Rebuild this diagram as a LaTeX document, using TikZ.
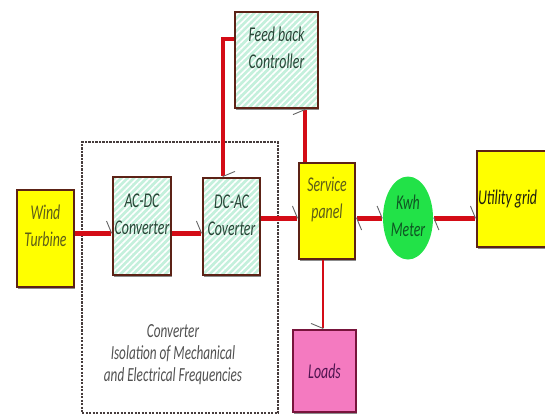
\documentclass[tikz,border=0pt]{standalone}
\usepackage{fontspec}
\setmainfont{Carlito}[FakeStretch=0.66]
\usetikzlibrary{arrows.meta,patterns.meta,shadows,shapes.geometric,calc}

\definecolor{wire}{RGB}{212,12,22}
\definecolor{edge}{RGB}{92,34,22}
\definecolor{mint}{RGB}{196,240,220}
\definecolor{yel}{RGB}{255,255,0}
\definecolor{pinkfill}{RGB}{244,122,192}
\definecolor{pinkedge}{RGB}{120,20,60}
\definecolor{meterg}{RGB}{34,226,72}
\definecolor{tipgray}{RGB}{100,100,100}
\definecolor{olivetext}{RGB}{92,92,25}
\definecolor{greentext}{RGB}{40,70,55}
\definecolor{metertext}{RGB}{15,85,35}
\definecolor{gridtext}{RGB}{30,30,15}
\definecolor{loadtext}{RGB}{80,20,80}
\definecolor{convtext}{RGB}{80,80,80}
\definecolor{dashc}{RGB}{70,60,60}

\newcommand\lifttext[2]{\raisebox{#1}[\height][\depth]{\begin{tabular}{@{}c@{}}#2\end{tabular}}}

\begin{document}
\begin{tikzpicture}[x=1pt,y=-1pt,
  font=\fontsize{21}{27}\selectfont\itshape,
  shade/.style={drop shadow={shadow xshift=0.8pt, shadow yshift=-1.8pt, opacity=0.45, fill=black}},
  ybox/.style={draw=edge, line width=1.8pt, fill=yel, inner sep=0pt, shade},
  gbox/.style={draw=edge, line width=1.8pt, inner sep=0pt, shade,
     preaction={fill=mint},
     pattern={Lines[angle=45,distance=4.5pt,line width=1.6pt]}, pattern color=white},
  pbox/.style={draw=pinkedge, line width=1.8pt, fill=pinkfill, inner sep=0pt, shade},
  dashbox/.style={draw=dashc, line width=1.1pt, dash pattern=on 2.2pt off 1.3pt, inner sep=0pt},
  wire/.style={draw=wire, line width=5pt},
  fbwire/.style={draw=wire, line width=3.6pt},
  thinwire/.style={draw=wire, line width=2.6pt},
  tipL/.style={-{Straight Barb[left, color=tipgray, line width=0.9pt, length=5pt, width=24pt]}},
  tipR/.style={-{Straight Barb[right, color=tipgray, line width=0.9pt, length=5pt, width=24pt]}},
  tipLL/.style={{Straight Barb[left, color=tipgray, line width=0.9pt, length=5pt, width=24pt]}-{Straight Barb[left, color=tipgray, line width=0.9pt, length=5pt, width=24pt]}},
]
\useasboundingbox (0,0) rectangle (545,417);

% converter group frame
\node[dashbox, minimum width=196pt, minimum height=271pt] (conv) at (180,277.5) {};
\node[text=convtext, align=center, font=\fontsize{20}{22}\selectfont\itshape] (ctext) at (173,355)
  {Converter\\Isolation of Mechanical\\and Electrical Frequencies};

% blocks
\node[ybox, minimum width=57pt, minimum height=97pt, text=olivetext] (wind) at (45.5,238.5)
  {\lifttext{11pt}{Wind\\Turbine}};
\node[gbox, minimum width=58pt, minimum height=98pt, text=greentext] (acdc) at (142,226)
  {\lifttext{10pt}{AC-DC\\Converter}};
\node[gbox, minimum width=57pt, minimum height=97pt, text=greentext] (dcac) at (231.5,226.5)
  {\lifttext{10pt}{DC-AC\\Coverter}};
\node[gbox, minimum width=83pt, minimum height=96pt, text=greentext] (ctrl) at (276.5,60)
  {\lifttext{10pt}{Feed back\\Controller}};
\node[ybox, minimum width=56pt, minimum height=96pt, text=olivetext] (svc) at (327,211)
  {\lifttext{11pt}{Service\\panel}};
\node[ellipse, fill=meterg, inner sep=0pt, minimum width=50pt, minimum height=83pt, text=metertext] (meter) at (408,218)
  {\lifttext{0pt}{Kwh\\Meter}};
\node[ybox, minimum width=78pt, minimum height=96pt, text=gridtext] (grid) at (516,199)
  {\makebox[76pt][l]{Utility grid}};
\node[pbox, minimum width=63pt, minimum height=82pt, text=loadtext] (loads) at (324.5,371)
  {Loads};

% helper coordinates
\coordinate (ya) at (0,233);
\coordinate (fb) at (223,39);
\coordinate (fx) at (305,0);
\coordinate (lx) at (323,0);

% connectors
\draw[wire, tipL] (wind.east |- ya) -- (acdc.west |- ya);
\draw[wire, tipL] (acdc.east |- ya) -- (dcac.west |- ya);
\draw[wire, tipL] (dcac.east |- meter.west) -- (svc.west |- meter.west);
\draw[wire, tipLL] (svc.east |- meter.west) -- (meter.west);
\draw[wire, tipLL] (meter.east) -- (grid.west |- meter.east);
\draw[fbwire, tipL] (ctrl.west |- fb) -- (fb) -- (fb |- dcac.north);
\draw[fbwire, tipL] (fx |- svc.north) -- (fx |- ctrl.south);
\draw[thinwire, tipR] (lx |- svc.south) -- (lx |- loads.north);
\end{tikzpicture}
\end{document}
